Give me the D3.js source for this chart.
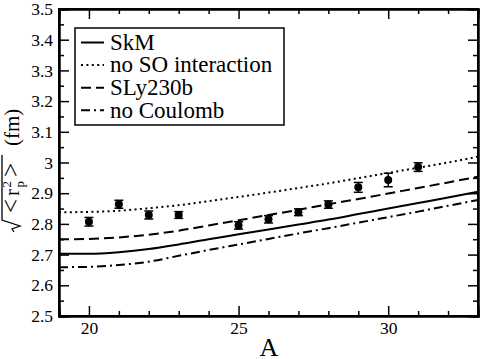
<!DOCTYPE html>
<html>
<head>
<meta charset="utf-8">
<script src="https://cdn.jsdelivr.net/npm/d3@7"></script>
<style>
  body { margin: 0; background: #fff; }
  svg text { font-family: "Liberation Serif", Tinos, "Times New Roman", Times, "Nimbus Roman", "DejaVu Serif", serif; fill: #000; }
  .axis path { stroke: #000; stroke-width: 2; }
  .axis line { stroke: #000; stroke-width: 1.5; }
  .axis text { font-size: 17.5px; }
</style>
</head>
<body>
<div class="chart"></div>
<script>
// theory curves, sampled at each A
var massGrid = [19, 20, 21, 22, 23, 24, 25, 26, 27, 28, 29, 30, 31, 32, 33];
var skm      = [2.703, 2.703, 2.708, 2.718, 2.733, 2.750, 2.766, 2.782, 2.798, 2.814, 2.832, 2.850, 2.868, 2.886, 2.905];
var noSO     = [2.838, 2.839, 2.843, 2.851, 2.861, 2.874, 2.888, 2.902, 2.917, 2.932, 2.949, 2.966, 2.983, 3.000, 3.019];
var sly230b  = [2.750, 2.751, 2.756, 2.765, 2.778, 2.795, 2.812, 2.829, 2.846, 2.864, 2.881, 2.899, 2.917, 2.935, 2.954];
var noCoul   = [2.659, 2.660, 2.666, 2.677, 2.696, 2.715, 2.733, 2.751, 2.769, 2.786, 2.804, 2.822, 2.840, 2.859, 2.878];

// experimental points
var expMass   = [20, 21, 22, 23, 25, 26, 27, 28, 29, 30, 31];
var expRadius = [2.807, 2.864, 2.829, 2.829, 2.795, 2.815, 2.838, 2.863, 2.919, 2.943, 2.985];
var expError  = [0.014, 0.013, 0.013, 0.011, 0.012, 0.012, 0.011, 0.012, 0.016, 0.022, 0.014];

var xMajor = [20, 25, 30];
var xMinor = [19, 21, 22, 23, 24, 26, 27, 28, 29, 31, 32, 33];
var yMajor = [2.5, 2.6, 2.7, 2.8, 2.9, 3.0, 3.1, 3.2, 3.3, 3.4, 3.5];
var yMinor = [2.55, 2.65, 2.75, 2.85, 2.95, 3.05, 3.15, 3.25, 3.35, 3.45];

var legendLabels = ['SkM', 'no SO interaction', 'SLy230b', 'no Coulomb'];
var dashes = [null, '2,3.4', '10,5', '9,4,2,4'];
var seriesData = [skm, noSO, sly230b, noCoul];

var width = 481, height = 359;
var pLeft = 59, pRight = 478, pTop = 9, pBottom = 316;

var x = d3.scaleLinear().domain([19, 33]).range([pLeft, pRight]);
var y = d3.scaleLinear().domain([2.5, 3.5]).range([pBottom, pTop]);

var svg = d3.select('.chart').append('svg')
  .attr('width', width)
  .attr('height', height);

function fmt(d) { return String(+d.toFixed(1)); }

function axisGroup(axis, tx, ty) {
  var g = svg.append('g').attr('class', 'axis')
    .attr('transform', 'translate(' + tx + ',' + ty + ')')
    .call(axis);
  g.attr('font-family', null).attr('font-size', null);
  return g;
}

// minor ticks
axisGroup(d3.axisBottom(x).tickValues(xMinor).tickSize(-5).tickFormat(''), 0, pBottom);
axisGroup(d3.axisTop(x).tickValues(xMinor).tickSize(-5).tickFormat(''), 0, pTop);
axisGroup(d3.axisLeft(y).tickValues(yMinor).tickSize(-5).tickFormat(''), pLeft, 0);
axisGroup(d3.axisRight(y).tickValues(yMinor).tickSize(-5).tickFormat(''), pRight, 0);

// major ticks
axisGroup(d3.axisBottom(x).tickValues(xMajor).tickSize(-10).tickPadding(6).tickFormat(d3.format('d')), 0, pBottom);
axisGroup(d3.axisTop(x).tickValues(xMajor).tickSize(-10).tickFormat(''), 0, pTop);
axisGroup(d3.axisLeft(y).tickValues(yMajor).tickSize(-10).tickPadding(6).tickFormat(fmt), pLeft, 0);
axisGroup(d3.axisRight(y).tickValues(yMajor).tickSize(-10).tickFormat(''), pRight, 0);

// frame
svg.append('rect')
  .attr('x', pLeft).attr('y', pTop)
  .attr('width', pRight - pLeft).attr('height', pBottom - pTop)
  .attr('fill', 'none').attr('stroke', '#000').attr('stroke-width', 2);

// curves
var line = d3.line()
  .x(function(d) { return x(d[0]); })
  .y(function(d) { return y(d[1]); })
  .curve(d3.curveMonotoneX);

svg.append('g').attr('class', 'curves')
  .selectAll('path')
  .data(seriesData)
  .enter().append('path')
  .attr('d', function(s) { return line(massGrid.map(function(a, i) { return [a, s[i]]; })); })
  .attr('fill', 'none')
  .attr('stroke', '#000')
  .attr('stroke-width', 2)
  .attr('stroke-dasharray', function(s, i) { return dashes[i]; });

// data points with error bars
var points = expMass.map(function(a, i) { return { a: a, r: expRadius[i], e: expError[i] }; });

var pts = svg.append('g').attr('class', 'points')
  .selectAll('g')
  .data(points)
  .enter().append('g');

pts.append('line')
  .attr('x1', function(d) { return x(d.a); })
  .attr('x2', function(d) { return x(d.a); })
  .attr('y1', function(d) { return y(d.r - d.e); })
  .attr('y2', function(d) { return y(d.r + d.e); })
  .attr('stroke', '#000').attr('stroke-width', 1.5);
[-1, 1].forEach(function(sgn) {
  pts.append('line')
    .attr('x1', function(d) { return x(d.a) - 4.5; })
    .attr('x2', function(d) { return x(d.a) + 4.5; })
    .attr('y1', function(d) { return y(d.r + sgn * d.e); })
    .attr('y2', function(d) { return y(d.r + sgn * d.e); })
    .attr('stroke', '#000').attr('stroke-width', 1.5);
});
pts.append('circle')
  .attr('cx', function(d) { return x(d.a); })
  .attr('cy', function(d) { return y(d.r); })
  .attr('r', 4)
  .attr('fill', '#000');

// legend
var legend = svg.append('g').attr('class', 'legend');
legend.append('rect')
  .attr('x', 75).attr('y', 28)
  .attr('width', 209).attr('height', 97)
  .attr('fill', '#fff').attr('stroke', '#000').attr('stroke-width', 1.5);

var rows = legend.selectAll('g.row')
  .data(legendLabels)
  .enter().append('g')
  .attr('class', 'row')
  .attr('transform', function(d, i) { return 'translate(0,' + (42.5 + 22.6 * i) + ')'; });

rows.append('line')
  .attr('x1', 81).attr('x2', 104)
  .attr('y1', 0).attr('y2', 0)
  .attr('stroke', '#000').attr('stroke-width', 2)
  .attr('stroke-dasharray', function(d, i) { return dashes[i]; });

rows.append('text')
  .attr('x', 110).attr('y', 0)
  .attr('dy', '0.32em')
  .style('font-size', '23px')
  .text(function(d) { return d; });

// x label
svg.append('text')
  .attr('x', 269).attr('y', 356)
  .attr('text-anchor', 'middle')
  .style('font-size', '26px')
  .text('A');

// y label, rotated, with radical sign
var ylab = svg.append('g').attr('transform', 'translate(19,226) rotate(-90)');
ylab.append('path')
  .attr('d', 'M-6,-5 L-3,-7 L0,1 L6,-17 L71,-17')
  .attr('fill', 'none').attr('stroke', '#000').attr('stroke-width', 1.3);
ylab.append('text').attr('x', 13).attr('y', 0).style('font-size', '25px').text('<');
ylab.append('text').attr('x', 30).attr('y', 0).style('font-size', '21px').text('r');
ylab.append('text').attr('x', 38.5).attr('y', -8).style('font-size', '13px').text('2');
ylab.append('text').attr('x', 38.5).attr('y', 5).style('font-size', '13px').text('p');
ylab.append('text').attr('x', 49).attr('y', 0).style('font-size', '25px').text('>');
ylab.append('text').attr('x', 80).attr('y', 0).style('font-size', '21px').text('(fm)');
</script>
</body>
</html>
